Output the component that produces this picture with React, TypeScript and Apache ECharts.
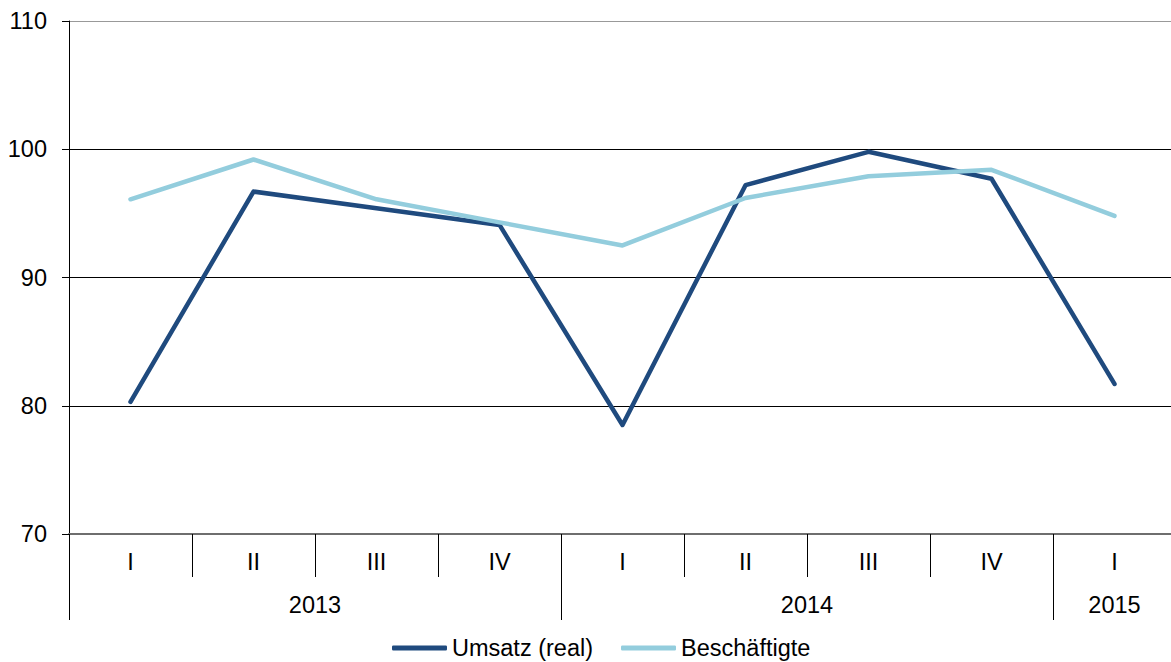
import React, { useEffect, useRef } from "react";
import * as echarts from "echarts";

const quarters = ["I", "II", "III", "IV", "I", "II", "III", "IV", "I"];
const years = ["2013", "2014", "2015"];
const yearCenters = [2, 6, 8.5];
const yearBoundaries = [0, 4, 8];
const umsatz = [80.3, 96.7, 95.4, 94.1, 78.5, 97.2, 99.8, 97.7, 81.7];
const beschaeftigte = [96.1, 99.2, 96.1, 94.3, 92.5, 96.2, 97.9, 98.4, 94.8];

const FONT = "'Liberation Sans', Arial, sans-serif";
const FS = 23.5;

export default function App() {
  const ref = useRef<HTMLDivElement>(null);
  useEffect(() => {
    if (!ref.current) return;
    const chart = echarts.init(ref.current, undefined, { renderer: "svg" });
    chart.setOption({
      animation: false,
      textStyle: { fontFamily: FONT },
      grid: { left: 69, width: 1107, top: 21, bottom: 128, containLabel: false, outerBoundsMode: "none" },
      legend: {
        left: 387,
        top: 631,
        icon: "roundRect",
        itemWidth: 55,
        itemHeight: 5,
        itemGap: 28,
        textStyle: { fontSize: FS, color: "#000", fontFamily: FONT },
        data: ["Umsatz (real)", "Beschäftigte"],
      },
      xAxis: [
        {
          type: "category",
          data: quarters,
          boundaryGap: true,
          position: "bottom",
          axisLine: { show: true, lineStyle: { color: "#6e6e6e", width: 2 } },
          axisTick: { show: true, length: 43, inside: false, alignWithLabel: false, lineStyle: { color: "#000", width: 1 } },
          axisLabel: { fontSize: FS, color: "#000", margin: 16, fontFamily: FONT },
          splitLine: { show: false },
        },
        {
          type: "value",
          min: 0,
          max: 9,
          position: "bottom",
          offset: 43,
          axisLine: { show: false },
          axisTick: { show: true, length: 43, inside: false, customValues: yearBoundaries, lineStyle: { color: "#000", width: 1 } },
          axisLabel: {
            fontSize: FS,
            color: "#000",
            margin: 16,
            fontFamily: FONT,
            customValues: yearCenters,
            formatter: (v: number) => {
              const i = yearCenters.indexOf(v);
              return i >= 0 ? years[i] : "";
            },
          },
          splitLine: { show: false },
        },
      ],
      yAxis: {
        type: "value",
        min: 70,
        max: 110,
        interval: 10,
        axisLine: { show: true, lineStyle: { color: "#000", width: 1 } },
        axisTick: { show: true, length: 7, inside: false, lineStyle: { color: "#000" } },
        axisLabel: { fontSize: FS, color: "#000", margin: 22, fontFamily: FONT },
        splitLine: { show: true, lineStyle: { color: ["#6e6e6e", "#000", "#000", "#000", "#999"], width: 1 } },
      },
      series: [
        {
          name: "Umsatz (real)",
          type: "line",
          data: umsatz,
          xAxisIndex: 0,
          symbol: "none",
          color: "#1f4a7e",
          lineStyle: { width: 4.5, color: "#1f4a7e", cap: "round", join: "round" },
        },
        {
          name: "Beschäftigte",
          type: "line",
          data: beschaeftigte,
          xAxisIndex: 0,
          symbol: "none",
          color: "#93cddd",
          lineStyle: { width: 4.5, color: "#93cddd", cap: "round", join: "round" },
        },
      ],
    });
    return () => chart.dispose();
  }, []);
  return (
    <div
      ref={ref}
      style={{ position: "absolute", left: 0, top: 0, width: 1171, height: 662, background: "#fff", overflow: "hidden" }}
    />
  );
}
